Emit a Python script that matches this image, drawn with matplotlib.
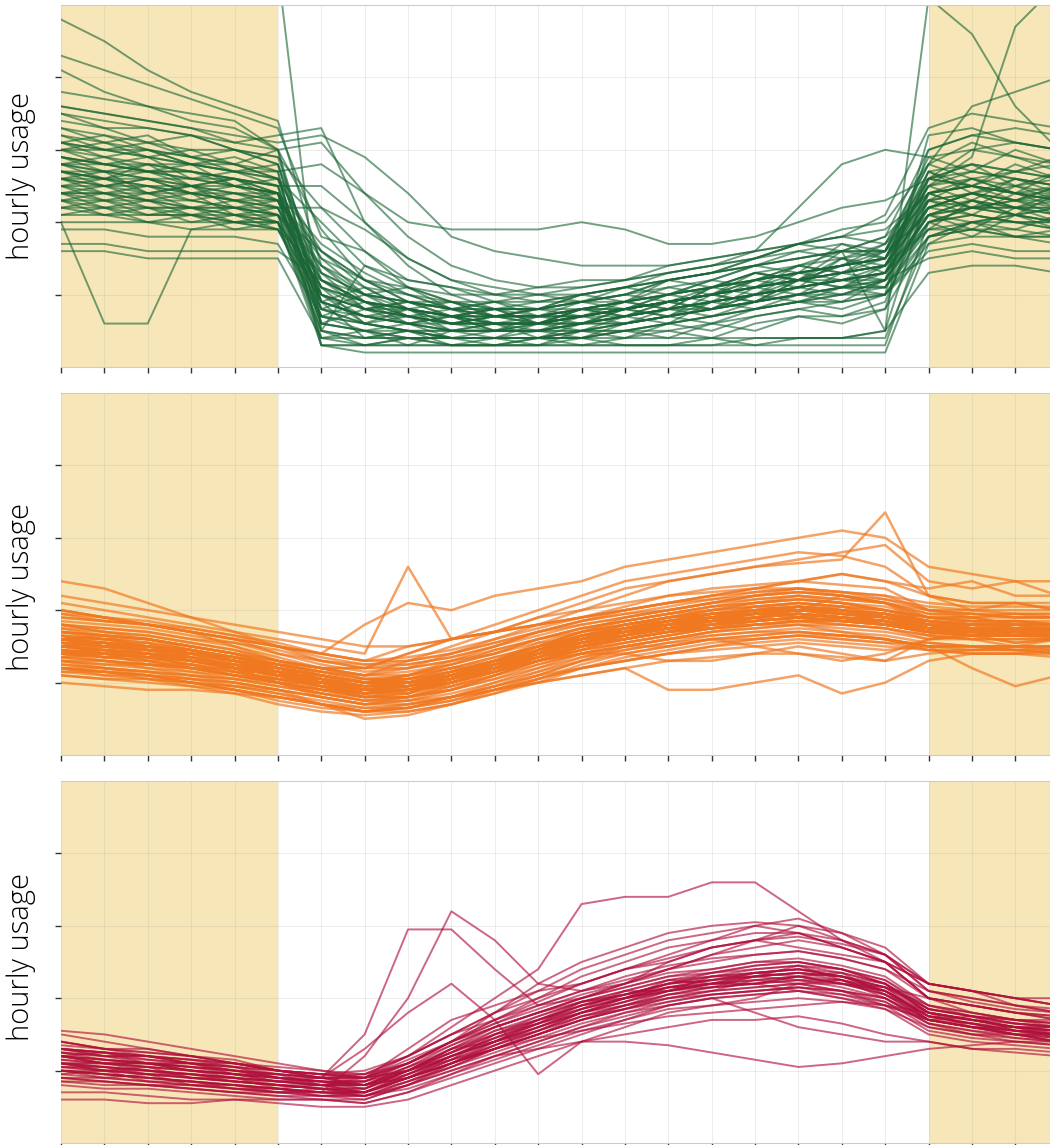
import matplotlib.pyplot as plt

# hourly usage profiles, one list per household, hours 0..23
hours = list(range(24))

green_lines = [
    [48, 45, 41, 38, 36, 34, 14, 10, 9, 8, 8, 8, 9, 10, 11, 12, 14, 15, 16, 18, 30, 32, 31, 30],
    [43, 41, 39, 37, 35, 33, 18, 16, 12, 11, 10, 9, 9, 10, 12, 13, 15, 17, 18, 21, 33, 35, 34, 33],
    [41, 38, 36, 34, 33, 30, 31, 24, 18, 14, 12, 11, 11, 12, 13, 14, 15, 17, 19, 20, 28, 36, 38, 40],
    [38, 37, 36, 35, 34, 30, 10, 8, 7, 7, 6, 6, 7, 8, 9, 10, 11, 12, 13, 14, 26, 30, 29, 28],
    [36, 35, 34, 33, 31, 32, 33, 20, 15, 12, 10, 10, 11, 12, 13, 14, 16, 17, 18, 19, 24, 26, 25, 26],
    [35, 34, 33, 32, 31, 30, 6, 5, 4, 4, 4, 4, 5, 5, 6, 7, 8, 9, 10, 10, 32, 33, 31, 30],
    [34, 33, 33, 32, 30, 29, 12, 10, 9, 9, 8, 8, 9, 9, 10, 11, 12, 13, 14, 15, 25, 27, 26, 25],
    [33, 32, 31, 30, 30, 29, 22, 19, 15, 12, 11, 10, 10, 11, 12, 13, 14, 15, 16, 16, 27, 28, 27, 26],
    [32, 31, 30, 29, 30, 28, 8, 7, 6, 5, 5, 6, 6, 7, 8, 9, 10, 11, 12, 13, 22, 24, 25, 24],
    [31, 30, 30, 29, 28, 27, 3, 3, 3, 3, 3, 3, 3, 3, 3, 3, 3, 3, 3, 3, 20, 22, 21, 22],
    [30, 30, 29, 28, 27, 26, 15, 12, 9, 8, 7, 7, 8, 8, 9, 10, 12, 13, 14, 15, 24, 25, 24, 23],
    [30, 29, 28, 28, 27, 26, 9, 7, 6, 5, 5, 5, 6, 7, 8, 9, 10, 11, 12, 13, 21, 23, 22, 22],
    [29, 28, 28, 27, 26, 25, 25, 20, 14, 10, 8, 7, 7, 8, 9, 10, 11, 12, 13, 14, 23, 24, 23, 24],
    [29, 28, 27, 27, 26, 25, 6, 5, 5, 4, 4, 4, 5, 6, 7, 8, 9, 10, 11, 11, 20, 22, 23, 22],
    [28, 28, 27, 26, 25, 24, 12, 9, 7, 6, 6, 6, 7, 8, 9, 10, 11, 13, 14, 15, 26, 27, 26, 25],
    [28, 27, 26, 26, 25, 24, 4, 4, 4, 4, 4, 4, 4, 4, 4, 4, 4, 4, 4, 4, 18, 20, 21, 20],
    [27, 27, 26, 25, 25, 24, 17, 13, 10, 8, 7, 7, 7, 8, 9, 10, 12, 13, 14, 15, 22, 24, 23, 23],
    [27, 26, 25, 25, 24, 23, 8, 6, 5, 5, 5, 5, 6, 6, 7, 8, 9, 10, 11, 12, 21, 22, 22, 21],
    [26, 26, 25, 24, 24, 23, 14, 11, 8, 7, 6, 6, 7, 8, 9, 10, 11, 12, 13, 14, 24, 25, 24, 24],
    [26, 25, 25, 24, 23, 22, 10, 8, 7, 6, 6, 6, 6, 7, 8, 9, 10, 11, 12, 13, 20, 21, 20, 20],
    [25, 25, 24, 24, 23, 22, 22, 16, 11, 9, 8, 8, 8, 9, 10, 11, 12, 14, 15, 16, 25, 26, 24, 23],
    [25, 24, 24, 23, 22, 22, 7, 6, 5, 4, 4, 5, 5, 6, 7, 8, 9, 10, 10, 11, 19, 20, 21, 20],
    [24, 24, 23, 23, 22, 21, 12, 9, 8, 7, 7, 7, 8, 8, 9, 10, 11, 12, 13, 14, 22, 23, 22, 22],
    [24, 23, 23, 22, 22, 21, 5, 4, 4, 4, 4, 4, 4, 5, 5, 6, 7, 8, 9, 10, 18, 19, 19, 18],
    [23, 23, 22, 22, 21, 21, 16, 12, 9, 8, 7, 7, 8, 9, 10, 11, 12, 13, 14, 15, 23, 22, 22, 21],
    [23, 22, 22, 21, 21, 20, 9, 7, 6, 6, 5, 5, 6, 7, 8, 9, 10, 11, 12, 12, 20, 21, 20, 19],
    [22, 22, 21, 21, 20, 20, 11, 9, 8, 7, 6, 6, 7, 7, 8, 9, 10, 11, 12, 13, 21, 20, 20, 19],
    [22, 21, 21, 21, 20, 20, 3, 2, 2, 2, 2, 2, 2, 2, 2, 2, 2, 2, 2, 2, 17, 18, 18, 17],
    [21, 21, 20, 20, 20, 19, 13, 10, 8, 7, 7, 7, 7, 8, 9, 10, 11, 12, 12, 13, 19, 19, 18, 18],
    [20, 20, 20, 19, 19, 19, 8, 6, 5, 5, 5, 5, 6, 6, 7, 8, 9, 10, 11, 11, 18, 19, 18, 18],
    [20, 6, 6, 19, 20, 19, 10, 8, 7, 6, 6, 6, 7, 8, 9, 10, 11, 12, 13, 14, 22, 21, 20, 20],
    [19, 19, 18, 18, 18, 17, 7, 6, 5, 4, 4, 4, 5, 5, 6, 7, 8, 9, 9, 10, 16, 17, 16, 16],
    [17, 17, 16, 16, 16, 16, 12, 9, 7, 6, 6, 6, 6, 7, 8, 8, 9, 10, 11, 12, 15, 16, 15, 15],
    [16, 16, 15, 15, 15, 15, 4, 3, 3, 3, 3, 3, 3, 3, 3, 3, 4, 4, 4, 5, 13, 14, 14, 13],
    [60, 60, 60, 60, 60, 55, 5, 14, 11, 9, 9, 9, 10, 11, 12, 13, 14, 15, 16, 18, 24, 25, 24, 23],
    [28, 27, 27, 26, 26, 25, 11, 9, 8, 7, 7, 7, 8, 9, 10, 11, 13, 14, 16, 5, 51, 46, 36, 30],
    [31, 30, 29, 28, 27, 27, 28, 24, 20, 19, 19, 19, 20, 19, 17, 17, 18, 20, 22, 23, 26, 25, 24, 25],
    [36, 35, 34, 33, 32, 31, 32, 29, 24, 18, 16, 15, 14, 14, 14, 15, 16, 22, 28, 30, 29, 30, 31, 30],
    [27, 26, 26, 25, 24, 24, 6, 5, 4, 4, 4, 4, 4, 5, 6, 7, 8, 9, 10, 12, 30, 32, 33, 32],
    [24, 24, 23, 22, 22, 21, 9, 7, 6, 5, 5, 5, 5, 6, 7, 8, 10, 12, 14, 16, 25, 29, 47, 53],
    [30, 28, 29, 26, 27, 25, 7, 9, 6, 7, 5, 6, 8, 7, 9, 8, 11, 10, 13, 12, 24, 22, 25, 23],
    [26, 27, 24, 25, 23, 24, 11, 6, 8, 5, 6, 4, 6, 8, 7, 10, 9, 12, 11, 14, 19, 23, 21, 24],
    [33, 31, 32, 29, 28, 30, 19, 12, 10, 9, 7, 8, 7, 9, 8, 11, 12, 11, 15, 13, 27, 25, 28, 26],
    [24, 22, 23, 21, 22, 20, 4, 5, 3, 5, 4, 6, 5, 7, 6, 9, 8, 10, 9, 12, 21, 19, 22, 20],
    [28, 29, 27, 28, 25, 26, 9, 4, 5, 3, 4, 3, 5, 4, 6, 5, 7, 8, 7, 9, 23, 26, 24, 27],
    [35, 33, 31, 32, 30, 28, 13, 8, 9, 7, 8, 6, 7, 8, 10, 9, 12, 14, 13, 16, 28, 31, 29, 27],
    [22, 23, 21, 22, 20, 21, 6, 8, 6, 7, 5, 7, 6, 8, 7, 9, 10, 9, 11, 10, 20, 18, 21, 19],
    [27, 25, 26, 24, 25, 23, 15, 10, 11, 8, 9, 7, 8, 9, 11, 10, 13, 12, 15, 14, 25, 23, 26, 24],
    [31, 32, 30, 28, 29, 27, 5, 3, 4, 3, 3, 4, 3, 4, 5, 4, 6, 7, 6, 8, 26, 28, 27, 29],
    [25, 26, 24, 25, 22, 23, 8, 10, 7, 8, 6, 7, 9, 8, 10, 12, 11, 14, 13, 15, 24, 25, 23, 25],
    [29, 27, 28, 27, 26, 24, 10, 7, 8, 6, 7, 6, 8, 9, 8, 11, 10, 13, 12, 14, 22, 24, 22, 24],
    [23, 21, 22, 20, 21, 19, 7, 5, 6, 4, 5, 5, 4, 6, 7, 6, 8, 9, 8, 10, 17, 20, 18, 19],
    [32, 30, 31, 29, 27, 28, 9, 11, 8, 9, 7, 8, 10, 9, 12, 11, 13, 12, 16, 15, 27, 24, 26, 25],
    [26, 24, 25, 23, 24, 22, 12, 8, 9, 7, 8, 6, 8, 7, 9, 10, 9, 12, 11, 13, 23, 21, 24, 22],
    [21, 22, 20, 21, 19, 20, 5, 4, 5, 4, 3, 4, 4, 5, 4, 6, 5, 7, 7, 8, 18, 20, 19, 21],
    [28, 26, 27, 25, 26, 23, 16, 11, 10, 8, 9, 8, 9, 10, 9, 11, 13, 12, 14, 17, 26, 28, 25, 27],
    [24, 25, 23, 24, 21, 22, 10, 6, 7, 5, 6, 5, 7, 6, 8, 7, 9, 11, 10, 12, 21, 23, 21, 22],
    [30, 31, 29, 30, 28, 26, 20, 14, 12, 11, 9, 10, 9, 11, 10, 12, 14, 13, 17, 16, 29, 27, 30, 28],
    [27, 26, 28, 25, 26, 24, 3, 3, 4, 3, 3, 3, 4, 3, 3, 4, 3, 4, 4, 5, 24, 22, 23, 25],
    [25, 23, 24, 22, 23, 21, 14, 9, 8, 6, 7, 6, 7, 8, 9, 8, 10, 11, 12, 11, 22, 24, 23, 21],
    [29, 28, 27, 27, 25, 24, 13, 10, 9, 8, 8, 9, 10, 11, 12, 13, 14, 16, 17, 15, 26, 25, 27, 26],
    [26, 25, 26, 24, 23, 23, 9, 7, 7, 6, 7, 8, 9, 10, 12, 13, 15, 16, 15, 17, 23, 24, 22, 23],
    [23, 24, 22, 22, 21, 20, 11, 8, 8, 7, 8, 8, 10, 11, 13, 14, 15, 17, 16, 16, 21, 22, 21, 20],
    [31, 29, 30, 28, 28, 26, 16, 12, 11, 10, 10, 11, 12, 12, 14, 15, 16, 17, 18, 17, 28, 26, 27, 28],
]

orange_lines = [
    [17.5, 17, 16.5, 15.5, 14.5, 13, 12, 11, 11.5, 12.5, 14, 15.5, 17, 18, 19, 19.5, 20, 20.5, 20, 19.5, 18.5, 18, 18, 18],
    [13, 12.5, 12, 11.5, 10.5, 9.5, 8.5, 7.5, 8, 9, 10.5, 12.5, 14, 15.5, 16.5, 17.5, 18, 18.5, 18, 17.5, 16.5, 16, 16, 16],
    [16, 15.5, 15, 14, 13, 12, 11, 10, 10.5, 11.5, 13, 15, 16.5, 18, 19, 20, 21, 21.5, 21, 20, 19, 18.5, 18.5, 18],
    [14.5, 14, 13.5, 12.5, 11.5, 10.5, 9.5, 8.5, 9, 10, 11.5, 13, 15, 16, 17, 18, 18.5, 19, 18.5, 18, 17, 16.5, 16.5, 16.5],
    [18, 17.5, 17, 16, 15, 13.5, 12, 11, 11, 12, 13.5, 15, 16.5, 17.5, 18.5, 19, 19.5, 20, 19.5, 19, 18, 17.5, 17.5, 17.5],
    [12.5, 12, 11.5, 11, 10, 9, 8, 7, 7.5, 9, 11, 13, 15, 16.5, 17.5, 18.5, 19.5, 20, 19.5, 19, 17.5, 17, 17, 17],
    [15.5, 15, 14.5, 13.5, 12.5, 11.5, 10.5, 9.5, 10, 11, 12.5, 14, 15.5, 16.5, 17.5, 18, 18.5, 19, 18.5, 18, 17, 17, 16.5, 16.5],
    [16.5, 16, 15.5, 14.5, 13.5, 12.5, 11.5, 10.5, 11, 12.5, 14.5, 16, 17.5, 18.5, 19.5, 20.5, 21, 21.5, 21, 20.5, 19, 18.5, 18.5, 18.5],
    [14, 13.5, 13, 12, 11, 10, 9, 8, 8.5, 10, 12, 14, 16, 17.5, 18.5, 19, 19.5, 19.5, 19, 18.5, 17.5, 17.5, 17.5, 17],
    [15, 14.5, 14, 13.5, 12.5, 11, 10, 9.5, 10, 11, 12.5, 14, 15.5, 16.5, 17.5, 18.5, 19, 19.5, 19, 18.5, 17, 17, 17, 17],
    [17, 16.5, 16, 15, 14, 12.5, 11, 10, 10, 11, 12, 13.5, 15, 16, 17, 17.5, 18, 18.5, 18.5, 18, 17, 16.5, 16.5, 16.5],
    [13.5, 13, 12.5, 12, 11, 10, 9, 8.5, 9, 10.5, 12.5, 14.5, 16.5, 18, 19, 20, 20.5, 21, 20.5, 20, 18.5, 18, 18, 18],
    [16, 15.5, 15, 14.5, 13.5, 12, 10.5, 9.5, 9.5, 10.5, 12, 13.5, 15, 16.5, 18, 19, 20, 20.5, 20, 19, 18, 18, 17.5, 17.5],
    [14.5, 14, 13.5, 13, 12, 11, 9.5, 8.5, 9, 10, 11.5, 13, 14.5, 15.5, 16.5, 17.5, 18, 18.5, 18, 17.5, 16.5, 16, 16, 16],
    [15.5, 15, 14.5, 14, 13, 11.5, 10, 9, 9.5, 11, 13, 15, 17, 18, 19, 19.5, 20, 20.5, 20, 19.5, 18, 17.5, 17.5, 17.5],
    [16.5, 16, 15.5, 14.5, 13, 12, 11, 10, 10, 11, 12.5, 14, 16, 17.5, 18.5, 19, 19.5, 20, 20, 19, 18, 17.5, 17.5, 17.5],
    [14, 13.5, 13, 12.5, 12, 11, 10, 9, 9, 10, 11.5, 13.5, 15, 16, 17, 18, 19, 19.5, 19, 18.5, 17, 17, 17, 16.5],
    [17, 16.5, 16, 15, 14, 13, 12, 10.5, 10.5, 11.5, 13, 14.5, 16, 17, 18, 19, 20, 20.5, 20, 19.5, 18.5, 18, 18, 18],
    [13, 13, 12.5, 12, 11, 10.5, 9.5, 8.5, 9, 10, 11.5, 13, 14.5, 16, 17, 17.5, 18, 18.5, 18.5, 18, 17, 16.5, 16.5, 16.5],
    [15, 14.5, 14, 13, 12, 11, 10, 9, 9, 10.5, 12.5, 14.5, 16.5, 17.5, 18.5, 19.5, 20.5, 21, 20.5, 19.5, 18, 17.5, 17.5, 17.5],
    [16, 15.5, 15, 14, 13, 12, 11, 10, 10.5, 12, 13.5, 15, 16, 17, 17.5, 18, 18.5, 19, 19, 18.5, 17.5, 17, 17, 17],
    [14, 14, 13.5, 13, 12, 11, 9.5, 8, 8.5, 10, 12, 14, 16, 17, 18, 18.5, 19, 19.5, 19, 18, 17, 17, 16.5, 16.5],
    [15, 14.5, 14, 13, 12.5, 11.5, 10.5, 9.5, 10, 11.5, 13, 15, 17, 18.5, 19.5, 20, 20.5, 21, 20.5, 20, 18.5, 18, 18, 18],
    [16, 15, 14.5, 14, 13, 11.5, 10, 9, 9, 10, 11.5, 13, 14.5, 15.5, 16.5, 17.5, 18.5, 19, 18.5, 18, 17, 16.5, 16.5, 16.5],
    [15.5, 14, 14.5, 13, 12.5, 10.5, 10.5, 8.5, 10, 10.5, 13, 13.5, 16, 16.5, 18.5, 18, 20, 19, 20, 18, 18, 16.5, 17.5, 17],
    [14, 15, 13, 13.5, 11.5, 11.5, 9, 9.5, 8.5, 11, 11.5, 14.5, 15, 17.5, 17, 19, 18.5, 20.5, 18.5, 19.5, 17, 18, 16.5, 17.5],
    [16.5, 15, 15.5, 13.5, 13, 11, 11, 9, 9.5, 10.5, 12, 14, 15.5, 17, 17.5, 19, 19.5, 19, 19.5, 18.5, 17.5, 17, 17, 16.5],
    [13.5, 14, 12.5, 12.5, 11, 10.5, 9, 8, 9, 9.5, 11, 13, 14.5, 16.5, 17.5, 18, 19, 18.5, 19, 18, 17, 16.5, 17, 16],
    [17, 16, 16, 14.5, 13.5, 12.5, 10.5, 10, 10, 11.5, 13, 15, 16, 17.5, 18, 19.5, 19.5, 20.5, 19.5, 19.5, 18, 18.5, 17.5, 18],
    [15, 15.5, 13.5, 14, 12, 11.5, 9.5, 9, 9.5, 10, 12, 13, 15, 16, 17.5, 17.5, 19, 19.5, 19, 18.5, 16.5, 17.5, 16.5, 17],
    [14.5, 13.5, 14, 12, 12, 10, 10, 8.5, 8.5, 10.5, 12, 14.5, 16.5, 17, 18.5, 19.5, 20, 20, 20, 19, 17.5, 17, 18, 17],
    [16, 16.5, 14.5, 14.5, 12.5, 12, 10, 10.5, 10.5, 12, 13, 15.5, 16, 18, 18.5, 19, 20.5, 20, 20.5, 19, 18.5, 17.5, 17, 17.5],
    [15, 14, 14, 13, 12, 10, 9, 8, 8, 9.5, 11, 12.5, 14, 15, 16, 17, 17.5, 18, 17.5, 17, 16, 16.5, 15.5, 16],
    [16, 15, 15, 14, 13, 12.5, 11.5, 10, 11, 12.5, 14, 16, 17.5, 18.5, 19.5, 20.5, 21, 21.5, 21, 20, 19, 18, 18.5, 18],
    [14, 14.5, 13, 12, 11.5, 10, 8.5, 7.5, 8, 9, 10.5, 12, 13.5, 15, 16, 17, 17.5, 18, 18, 17.5, 16, 16.5, 15.5, 16],
    [17.5, 16.5, 16, 15, 14, 12.5, 11.5, 10.5, 10, 11, 12.5, 14, 15.5, 17, 18, 18.5, 19, 19.5, 19, 18.5, 17.5, 17, 17.5, 17],
    [15, 15, 14, 13, 12, 11.5, 10.5, 9, 9.5, 11, 12, 14, 15.5, 16.5, 18, 18.5, 19.5, 19.5, 19, 18, 17.5, 17.5, 17, 17],
    [13, 12.5, 12.5, 11.5, 11, 10, 8.5, 8, 8, 9.5, 11.5, 13.5, 15.5, 16.5, 17.5, 18.5, 19, 19.5, 19, 18.5, 17, 16.5, 16.5, 16],
    [16, 16, 15, 14.5, 13, 11.5, 10.5, 9.5, 10.5, 11, 13, 14, 16, 17.5, 18.5, 19.5, 20, 21, 20, 19.5, 18.5, 18, 17.5, 18],
    [14.5, 14, 13.5, 13, 12.5, 11, 9.5, 9, 9, 10.5, 12.5, 14.5, 16, 17, 18, 18.5, 19.5, 20, 19.5, 19, 17.5, 17, 17, 17],
    [15.5, 15.5, 14.5, 13.5, 12, 11, 10, 9, 10, 11.5, 12.5, 14, 15.5, 17, 18, 19, 19.5, 20, 20, 19, 17.5, 17.5, 17.5, 17],
    [14.5, 13.5, 13.5, 12.5, 11.5, 10.5, 9.5, 8.5, 9, 10.5, 12, 13.5, 15, 16, 17, 17.5, 18.5, 19, 18.5, 18, 17, 16.5, 16.5, 16.5],
    [16, 15, 15, 14, 13.5, 12, 11, 10, 10, 11, 13, 14.5, 16.5, 17.5, 19, 19.5, 20, 20, 19.5, 19, 18, 17.5, 17.5, 17.5],
    [15, 14.5, 14, 13.5, 12, 11, 10, 9.5, 9.5, 11, 12.5, 14.5, 16, 17, 18, 19, 19.5, 20, 19.5, 19, 17.5, 17, 17, 17],
    [19.5, 19, 18, 17, 16, 15, 14, 13, 13.5, 14.5, 16, 17.5, 19, 20, 21, 22, 22.5, 23, 22.5, 22, 21, 20.5, 20.5, 20.5],
    [19, 18.5, 18, 17.5, 16.5, 15, 13.5, 12.5, 13, 14, 15.5, 17, 18.5, 19.5, 20.5, 21.5, 22, 22.5, 22, 21.5, 20.5, 20, 20, 20],
    [18.5, 18, 17.5, 16.5, 15.5, 14.5, 13, 12, 12.5, 13.5, 15, 16.5, 18, 19, 20, 21, 21.5, 22, 21.5, 21, 20, 19.5, 19.5, 19.5],
    [19.5, 18.5, 18, 17, 16, 14, 13, 12.5, 12.5, 13.5, 15, 17, 18.5, 20, 21, 21.5, 22.5, 23, 22.5, 21.5, 20, 20, 19.5, 19.5],
    [18, 17.5, 17, 16, 15.5, 14, 12.5, 11.5, 12, 13, 14.5, 16, 17.5, 18.5, 19.5, 20.5, 21.5, 22, 21.5, 21, 19.5, 19, 19, 19],
    [20, 19, 18.5, 17.5, 16.5, 15.5, 14, 13, 13, 14, 15.5, 17, 18.5, 19.5, 20, 21, 22, 22.5, 22, 21, 19.5, 19.5, 19, 19],
    [11.5, 11, 10.5, 10, 9, 8, 7, 6, 6.5, 7.5, 9, 10.5, 12.5, 14, 15, 16, 16.5, 17, 16.5, 16, 15, 15, 14.5, 14.5],
    [12, 11.5, 11, 10, 9, 7.5, 6.5, 6, 6, 7, 8.5, 10, 12, 13.5, 14.5, 15.5, 16, 16.5, 16.5, 16, 14.5, 14.5, 14.5, 14],
    [11, 10.5, 10.5, 9.5, 8.5, 7, 6, 5.5, 6, 7, 8.5, 10.5, 12, 13, 14, 15, 15.5, 16, 15.5, 15, 14.5, 14, 14, 14],
    [12.5, 12, 11.5, 10.5, 9.5, 8.5, 7.5, 6.5, 7, 8, 9.5, 11, 13, 14.5, 15.5, 16.5, 17, 17.5, 17, 16.5, 15.5, 15, 15, 15],
    [11.5, 11.5, 10.5, 10, 9, 8, 7, 6.5, 6.5, 8, 9.5, 11.5, 13.5, 14.5, 15.5, 16, 16.5, 17, 16.5, 16, 15, 15, 14.5, 15],
    [12, 11, 11, 10, 9.5, 8.5, 7, 6, 6.5, 7.5, 9, 10.5, 12, 13, 14, 15, 16, 16.5, 16, 15.5, 14.5, 14, 14, 14.5],
    [24, 23, 21, 19, 17, 15, 13, 12, 12, 13, 14, 16, 17, 18, 19, 20, 21, 22, 21, 20, 19, 19, 18, 18],
    [21, 20, 19, 18, 17, 16, 15, 14, 26, 16, 17, 19, 20, 22, 24, 25, 26, 27, 28, 29, 24, 23, 24, 22],
    [19, 18.5, 18, 17, 16, 15, 14, 18, 21, 20, 22, 23, 24, 26, 27, 28, 29, 30, 31, 30, 26, 25, 24, 24],
    [11, 10.5, 10, 9.5, 9, 8, 7, 6, 7, 8, 9.5, 11, 12, 13, 14, 14.5, 15, 15.5, 15, 14.5, 15, 14.5, 15, 14.5],
    [13, 12, 11, 10, 9.5, 9, 8, 7, 7, 8, 9, 10, 11, 12, 9, 9, 10, 11, 8.5, 10, 13, 14, 14, 13.5],
    [17, 16.5, 16, 15, 14, 13, 12, 12, 14, 16, 18, 20, 22, 24, 25, 26, 27, 28, 27.5, 26, 22, 21, 21, 21],
    [15, 15, 14.5, 14, 13.5, 12.5, 11.5, 11, 13, 15, 17, 19, 21, 23, 24, 25, 26, 26.5, 27, 33.5, 22, 20, 21, 20],
    [12, 11.5, 11, 10.5, 10, 9, 7, 6, 6.5, 8, 10, 12, 14, 15, 16, 16.5, 17, 17, 16.5, 16, 15, 15, 15, 15],
    [18, 17, 16, 15, 14, 12, 10, 8, 8, 9, 11, 13, 14, 15, 15, 16, 15, 14, 13, 14, 16, 16, 15, 16],
    [20, 19, 18, 17, 16, 15, 14, 13, 15, 16, 17, 18, 19, 20, 21, 22, 23, 24, 25, 24, 22, 21, 21, 20],
    [10, 9.5, 9, 9, 8.5, 8, 7, 5, 5.5, 7, 9, 11, 13, 15, 16, 17, 18, 18, 17, 16, 15, 12, 9.5, 11],
    [16, 16, 15, 14, 13, 12, 11, 10, 11, 12, 12, 13, 14, 14, 13, 13, 14, 15, 14, 13, 16, 17, 17, 17],
    [22, 21, 20, 19, 18, 17, 16, 15, 15, 16, 17, 18, 19, 20, 21, 22, 23, 24, 25, 24, 23, 24, 22, 22],
    [14, 13, 12.5, 12, 11, 10, 8, 7, 8, 10, 12, 14, 15, 16, 17, 18, 19, 20, 22, 21, 19, 19, 18, 18],
    [18, 17, 16.5, 15.5, 14.5, 13, 12, 11, 12, 14, 16, 18, 20, 21, 22, 23, 23.5, 24, 23.5, 23, 20, 19.5, 19, 19],
    [16, 15.5, 15, 14.5, 13.5, 12.5, 12, 12, 14, 16, 17, 18, 19, 20.5, 22, 22.5, 23, 23, 22.5, 22, 20, 19, 19.5, 19],
    [20, 19, 18, 17, 15, 13, 11, 10, 11, 13, 15, 17, 18, 19, 20, 21, 22, 22.5, 22, 21, 19, 18.5, 18.5, 18],
    [12, 12, 11.5, 11, 10.5, 10, 9, 8.5, 9.5, 11, 13, 15, 17, 19, 20, 21, 22, 23, 22, 21, 18, 17.5, 17, 17],
    [12, 11.5, 11, 10.5, 10, 9, 8, 7, 7.5, 8, 9, 10, 11, 12, 13, 13.5, 14, 14, 13.5, 13, 14, 14.5, 14.5, 14],
    [13.5, 13, 12, 11, 10.5, 9.5, 8.5, 7.5, 7.5, 8.5, 10, 11.5, 13, 14, 15, 16, 16, 16.5, 16, 15.5, 15.5, 15, 15, 15],
]

crimson_lines = [
    [11, 10, 9.5, 9, 8.5, 8, 7.5, 7.5, 10, 13, 15, 17, 19, 20.5, 22, 22.5, 23, 23.5, 23, 21, 17.5, 16.5, 15.5, 15],
    [13, 12.5, 12, 11, 10.5, 9.5, 9, 9, 11.5, 14, 16.5, 18.5, 20.5, 22, 23.5, 24, 25, 25.5, 24.5, 23, 19, 18, 17, 16.5],
    [9, 8.5, 8, 7.5, 7, 6.5, 6, 6, 8, 11, 13, 15, 17, 18.5, 20, 21, 21.5, 22, 21, 19.5, 16, 15, 14, 13.5],
    [12, 11, 10.5, 10, 9.5, 9, 8.5, 8, 9.5, 12, 14.5, 16.5, 18.5, 20, 21.5, 22.5, 23.5, 24, 23.5, 22, 18, 17, 16, 15.5],
    [10, 9.5, 9, 8.5, 8, 7.5, 7, 7, 9, 12, 14, 16, 18, 19.5, 21, 22, 22.5, 23, 22, 20.5, 17, 16, 15, 14.5],
    [14, 13, 12.5, 12, 11, 10, 9.5, 9.5, 12, 15, 17, 19, 21, 22.5, 24, 25, 26, 26.5, 25.5, 24, 20, 19, 18, 17.5],
    [11.5, 11, 10, 9.5, 9, 8.5, 8, 7, 9, 11.5, 14, 16, 18.5, 20, 21.5, 22, 23, 23.5, 22.5, 21, 17, 16, 15.5, 15],
    [8, 7.5, 7.5, 7, 6.5, 6, 6, 5.5, 7, 9.5, 12, 14, 16, 17.5, 19, 20, 20.5, 21, 20, 18.5, 15, 14, 13.5, 13],
    [12.5, 12, 11.5, 11, 10, 9, 8.5, 8.5, 11, 14, 16, 18, 20, 21.5, 23, 23.5, 24.5, 25, 24, 22.5, 18.5, 17.5, 16.5, 16],
    [10.5, 10, 9.5, 9, 8.5, 8, 7.5, 7.5, 10, 12.5, 15, 17.5, 19.5, 21, 22.5, 23, 23.5, 24, 23, 21.5, 18, 17, 16, 15.5],
    [15, 14, 13, 12, 11, 10, 9, 8, 10, 13, 16, 18, 20, 22, 24, 26, 27, 28, 27, 25, 20, 19, 18, 17],
    [9.5, 9, 8.5, 8, 7.5, 7, 6.5, 6.5, 8.5, 11, 13.5, 15.5, 17.5, 19, 20.5, 21.5, 22, 22.5, 21.5, 20, 16.5, 15.5, 14.5, 14],
    [11, 11, 10.5, 10, 9.5, 9, 8.5, 8, 9, 11, 13, 15.5, 18, 20, 22, 23.5, 24.5, 25, 24, 22, 18, 17, 16, 16],
    [12, 11.5, 11, 10, 9.5, 8.5, 8, 8, 10.5, 13.5, 16, 18, 19.5, 20.5, 21.5, 22, 22.5, 23, 22.5, 21, 18, 17, 16.5, 16],
    [10, 10, 9.5, 9, 8.5, 8, 7.5, 7, 8.5, 10.5, 12.5, 14.5, 16.5, 18, 19.5, 20.5, 21, 21.5, 21, 20, 17, 16, 15, 14.5],
    [13, 12.5, 11.5, 11, 10, 9.5, 9, 9, 11, 13.5, 16, 18, 20, 21.5, 23, 24, 25, 25, 24, 22, 18.5, 17.5, 17, 16.5],
    [8.5, 8, 8, 7.5, 7, 6.5, 6.5, 6, 8, 10.5, 13, 15, 17, 18.5, 20, 20.5, 21, 21.5, 20.5, 19, 15.5, 14.5, 14, 13.5],
    [11, 10.5, 10, 9.5, 9, 8.5, 8, 8, 10, 12.5, 15, 17, 19, 20.5, 22, 23, 24, 24.5, 23.5, 22, 18, 17, 16, 15.5],
    [10, 9.5, 9, 8.5, 8, 7.5, 7, 7, 9.5, 12, 14, 16.5, 18.5, 20, 21, 21.5, 22, 22.5, 22, 21, 17.5, 16.5, 15.5, 15],
    [12.5, 12, 11, 10.5, 10, 9, 8.5, 8.5, 10.5, 13, 15.5, 17.5, 19.5, 21, 22.5, 23.5, 24, 24.5, 24, 22.5, 19, 18, 17, 16.5],
    [14, 13, 12, 11.5, 11, 10, 9.5, 9, 12, 16, 20, 24, 33, 34, 34, 36, 36, 32, 28, 25, 22, 21, 20, 19],
    [10, 9.5, 9, 8.5, 8, 7.5, 7, 12, 20, 32, 28, 22, 21, 22, 24, 26, 28, 29, 27, 25, 20, 19, 18, 17],
    [12, 11.5, 11, 10.5, 10, 9.5, 9, 15, 29.5, 29.5, 24, 19, 20, 22, 25, 27, 28, 30, 29, 26, 21, 20, 19, 18],
    [11, 10.5, 10, 9.5, 9, 8.5, 9, 13, 18, 22, 17, 9.5, 14, 16, 18, 19, 20, 22, 21, 19, 17, 16, 15, 15],
    [9, 8.5, 8, 8, 7.5, 7, 7, 6.5, 8, 10, 12, 13, 14, 14, 13.5, 12.5, 11.5, 10.5, 11, 12, 13, 13.5, 14, 14],
    [13, 12.5, 12, 11.5, 11, 10, 9.5, 10, 12, 15, 18, 21, 24, 26, 28, 29, 30, 31, 29, 27, 22, 21, 20, 20],
    [15.5, 15, 14, 13, 12, 11, 10, 9.5, 11, 14, 17, 20, 23, 25, 27, 28, 29, 29, 28, 26, 22, 21, 19, 18],
    [7, 7, 6.5, 6, 6, 5.5, 5, 5, 6, 8, 10, 12, 14, 15, 16, 17, 17, 17.5, 16.5, 15, 14, 13, 12.5, 12],
    [6, 6, 5.5, 5.5, 6, 6, 6, 5.5, 7, 9, 11, 13, 15, 17, 19, 20, 18, 16, 15, 14, 14, 13, 13, 12.5],
    [11, 11, 11, 11, 11, 10, 9.5, 9, 10, 11.5, 13, 15, 17, 19, 21, 22, 22, 21, 20, 19, 17, 16, 15, 14],
    [12, 11, 10.5, 10, 9, 8.5, 8, 9, 13, 17, 19, 21, 22, 24, 25, 27, 28, 27, 26, 25, 20, 18, 17, 17],
    [10, 9.5, 9, 8.5, 8, 7.5, 7, 7, 9, 11, 13, 14.5, 15.5, 16.5, 17.5, 18, 18.5, 19, 19.5, 19, 18, 17, 16, 16],
    [13.5, 13, 12.5, 12, 11, 10.5, 10, 9, 10, 12, 14, 16, 18, 19, 20, 21, 21.5, 22, 22, 21.5, 20, 19, 18, 17.5],
    [11, 10, 10.5, 9, 9, 7.5, 8, 7, 9.5, 11.5, 15, 16.5, 19.5, 20, 22.5, 22, 23.5, 23, 23.5, 20.5, 18, 16, 16, 14.5],
    [12, 12.5, 11, 11, 9.5, 9.5, 8, 8.5, 10, 13, 14, 17, 18.5, 21, 21, 23, 23, 24.5, 22.5, 21.5, 17, 17.5, 15.5, 15.5],
    [10, 9, 9.5, 8, 8, 7, 7.5, 6.5, 8.5, 10.5, 13, 15, 17.5, 18.5, 20.5, 21, 22.5, 22, 22.5, 20, 16.5, 15, 15, 14],
    [13, 12, 12, 11, 10.5, 9, 9, 8, 10.5, 12.5, 15.5, 17, 19.5, 20.5, 22, 23, 23.5, 24, 23, 21.5, 19, 17.5, 17, 16],
    [9.5, 10, 8.5, 8.5, 7.5, 7.5, 6.5, 7, 9, 11, 14, 15.5, 18, 19.5, 21.5, 21.5, 23, 22.5, 22.5, 20.5, 17.5, 16.5, 15, 15],
    [11.5, 11, 11, 10, 9.5, 8.5, 8.5, 7.5, 10, 12, 14, 16.5, 18, 20, 21, 22, 22, 23, 22, 21, 17.5, 16.5, 16, 15],
    [12.5, 11.5, 11, 10.5, 9.5, 9, 8, 8, 9, 11, 13.5, 16, 18, 19.5, 21, 22, 23, 23.5, 23, 21.5, 18.5, 17.5, 16.5, 16],
    [10.5, 10.5, 9.5, 9.5, 8.5, 8, 7.5, 7, 9, 11.5, 13.5, 15.5, 17.5, 19, 20.5, 21.5, 22, 23, 22, 20.5, 17, 16, 15.5, 14.5],
    [14, 13, 13, 12, 11.5, 10, 9.5, 9, 11, 14, 16.5, 19, 21, 23, 24.5, 25.5, 26, 26.5, 25.5, 24, 21, 19.5, 18.5, 18],
    [8.5, 8.5, 8, 7.5, 7, 7, 6.5, 6.5, 8, 10, 12, 14, 16, 18, 19, 20, 20.5, 21, 20.5, 19.5, 16.5, 15.5, 15, 14],
    [11, 10.5, 10, 9.5, 9, 8, 8, 7.5, 9.5, 12, 14.5, 16.5, 19, 20.5, 22, 22.5, 23.5, 24, 23, 22, 18.5, 17.5, 16.5, 16],
    [12, 11, 11, 10, 9.5, 9, 8.5, 8, 10, 12.5, 14.5, 17, 19, 20, 21.5, 22.5, 23, 23.5, 23, 21, 17.5, 17, 16, 15.5],
    [13, 12.5, 12, 11.5, 10.5, 10, 9, 8.5, 11, 14, 17, 19.5, 22, 24, 25.5, 27, 28, 28.5, 27.5, 26, 21, 20, 19, 18.5],
    [9, 9, 8.5, 8, 7.5, 7, 7, 6.5, 7.5, 9.5, 11.5, 13.5, 15.5, 17, 18.5, 19, 19.5, 20, 19.5, 18.5, 16, 15, 14.5, 14],
    [10.5, 10, 10, 9, 8.5, 8, 7.5, 7, 9, 11, 13, 15, 17, 18.5, 19.5, 20.5, 21, 21.5, 21, 20, 17, 16.5, 15.5, 15],
    [12, 11.5, 11, 10.5, 10, 9.5, 9, 9, 11, 14, 18, 22, 25, 27, 29, 30, 30.5, 30, 28, 26, 22, 21, 20, 19],
    [13, 12, 12, 11, 10.5, 10, 9, 9.5, 12, 15, 18, 20, 22, 24, 26, 28, 30, 29, 27, 25, 22, 21, 20, 19],
]

panels = [(green_lines, '#1b6636', 1.4, 0.62),
          (orange_lines, '#f07820', 1.8, 0.68),
          (crimson_lines, '#b0103c', 1.4, 0.64)]
night = [(0, 5), (20, 24)]
label_y = [0.527, 0.464, 0.514]

fig = plt.figure(figsize=(10.5, 11.45), dpi=100, facecolor='white')
bottoms = [1 - 367 / 1145, 1 - 755 / 1145, 1 - 1143 / 1145]

for (lines, col, lw, al), b, ly in zip(panels, bottoms, label_y):
    ax = fig.add_axes([61 / 1050, b, 1 - 61 / 1050, 362 / 1145])
    for x0, x1 in night:
        ax.axvspan(x0, x1, color='#f7e7b8', lw=0, zorder=0)
    for ys in lines:
        ax.plot(hours, ys, color=col, lw=lw, alpha=al, zorder=2)
    ax.set_xlim(0, 22.8)
    ax.set_ylim(0, 50)
    ax.set_xticks(range(23))
    ax.set_yticks([10, 20, 30, 40])
    ax.set_xticklabels([])
    ax.set_yticklabels([])
    ax.grid(True, color='#8c8c8c', alpha=0.15, lw=0.8, zorder=0.5)
    ax.set_axisbelow(True)
    ax.tick_params(length=4, width=1, color='#333333')
    for s in ['left', 'right']:
        ax.spines[s].set_visible(False)
    for s in ['top', 'bottom']:
        ax.spines[s].set_color('#cccccc')
    ax.set_ylabel('hourly usage', fontsize=21, family='Open Sans', fontweight='light')
    ax.yaxis.set_label_coords(-0.025, ly)

plt.savefig('out.png', dpi=100, facecolor='white')
